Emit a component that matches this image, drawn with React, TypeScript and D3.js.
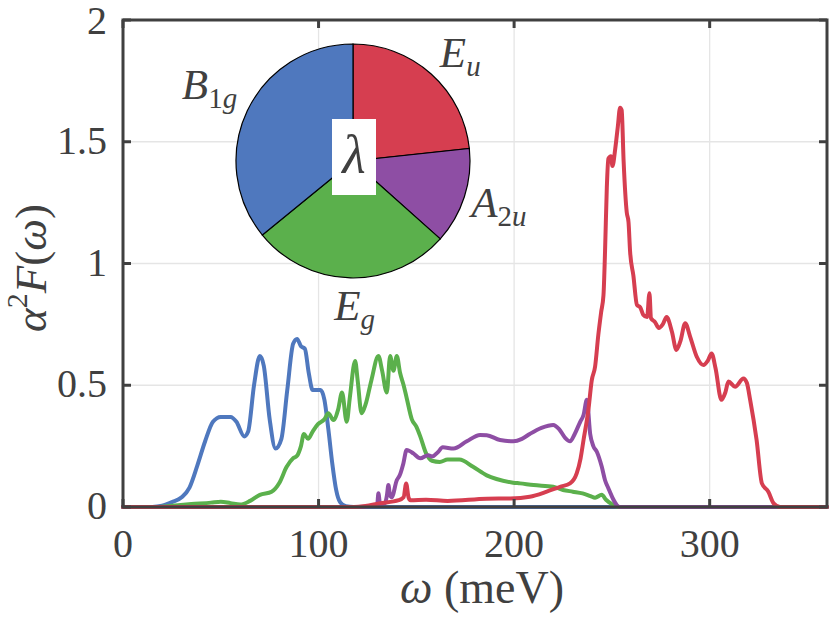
import * as d3 from 'd3'

type Pt = [number, number]

// α²F(ω) per mode (ω in meV)
const b1g: Pt[] = [[0,0],[15,0],[20,0.005],[25,0.02],[30,0.04],[34,0.08],[38,0.17],[42,0.27],[46,0.35],[50,0.37],[55,0.37],[58,0.35],[62,0.29],[64,0.31],[67,0.5],[70,0.62],[72,0.58],[75,0.36],[78,0.24],[81,0.28],[84,0.48],[87,0.67],[89,0.69],[91,0.66],[93,0.65],[95,0.55],[97,0.48],[101,0.48],[103,0.44],[105,0.32],[107,0.18],[109,0.07],[111,0.02],[114,0.003],[118,0],[360,0]]

const eg: Pt[] = [[0,0],[18,0],[25,0.005],[35,0.012],[45,0.018],[50,0.022],[55,0.016],[60,0.01],[65,0.025],[70,0.05],[76,0.063],[80,0.1],[83.7,0.165],[87,0.2],[89,0.21],[91,0.25],[92.5,0.3],[94.6,0.28],[97,0.31],[99.7,0.34],[103,0.36],[105,0.385],[107.6,0.357],[110,0.4],[112,0.47],[114.4,0.35],[116,0.45],[118.7,0.6],[120,0.52],[122,0.385],[124,0.42],[127,0.52],[130.6,0.62],[132.5,0.56],[134.9,0.47],[136.6,0.62],[138.3,0.56],[140,0.62],[141.7,0.55],[143.5,0.5],[145,0.45],[147.7,0.36],[150,0.33],[152,0.29],[155,0.22],[158,0.19],[162,0.185],[166,0.195],[172,0.195],[179,0.165],[186,0.13],[191,0.115],[199.5,0.1],[203,0.097],[210,0.09],[220,0.083],[225,0.07],[230,0.063],[235,0.056],[239,0.045],[241.4,0.038],[244.8,0.05],[247,0.03],[250,0.012],[253,0],[360,0]]

const a2u: Pt[] = [[0,0],[120,0],[128,0.005],[130,0.01],[130.6,0.056],[131.5,0.01],[134,0.016],[135,0.05],[135.7,0.09],[136.5,0.05],[137.4,0.04],[140,0.11],[141.5,0.13],[143.4,0.18],[145,0.234],[146.5,0.23],[148.5,0.22],[152,0.2],[156,0.213],[158,0.207],[161,0.225],[163.5,0.245],[169,0.24],[175.8,0.27],[182.6,0.296],[186,0.295],[192.8,0.275],[199.6,0.27],[204,0.28],[208,0.3],[214,0.325],[220,0.337],[223,0.32],[226,0.285],[228.6,0.27],[231,0.3],[233.8,0.35],[235.5,0.378],[237.2,0.44],[238.9,0.3],[240.5,0.25],[242.3,0.227],[244.8,0.166],[246.5,0.11],[248.2,0.077],[250.5,0.035],[252.5,0.008],[254,0],[360,0]]

const eu: Pt[] = [[0,0],[118,0],[124,0.004],[131,0.015],[141,0.028],[143.5,0.04],[144.8,0.097],[146,0.04],[147,0.028],[155,0.03],[166,0.025],[186,0.034],[198,0.035],[208,0.042],[216.7,0.063],[223.5,0.083],[228.6,0.097],[232,0.138],[234,0.2],[235.5,0.275],[238,0.4],[239.7,0.52],[241.4,0.576],[243.1,0.71],[244.5,0.8],[245.7,0.87],[246.5,1.05],[247.4,1.31],[248.2,1.43],[249.5,1.44],[250.3,1.4],[251.7,1.47],[253,1.56],[254.2,1.64],[255,1.63],[256,1.42],[257.6,1.21],[258.5,1.17],[259.3,1.05],[261,0.95],[262.8,0.83],[264.5,0.82],[266,0.79],[268,0.78],[269.2,0.878],[270,0.775],[272,0.76],[274,0.735],[276,0.75],[278,0.78],[280.7,0.72],[283,0.645],[285,0.68],[287.5,0.755],[290,0.7],[293.4,0.617],[296.8,0.583],[299,0.6],[301,0.63],[303,0.57],[306,0.44],[308,0.47],[309.6,0.515],[313,0.494],[317.3,0.528],[319,0.51],[320.7,0.44],[324,0.275],[326.7,0.097],[330,0.063],[332.7,0.015],[336,0],[360,0]]

// share of λ per mode (clockwise from 12 o'clock)
const pieModes = ['Eu', 'A2u', 'Eg', 'B1g']
const pieShares = [0.233, 0.133, 0.275, 0.359]

const xTicks = [0, 100, 200, 300]
const yTicks = [0, 0.5, 1, 1.5, 2]

const colors: Record<string, string> = {
  B1g: '#4F78BE',
  Eg: '#5BB04C',
  A2u: '#8E4EA4',
  Eu: '#D63E50',
}

// small hand nudges so pie labels sit like the original
const labelNudge: Record<string, [number, number]> = {
  Eu: [7, 6],
  A2u: [3, -2],
  Eg: [5, -3],
  B1g: [-8, -10],
}

const W = 830
const H = 623
const ink = '#404040'
const serif = '"Liberation Serif", "DejaVu Serif", serif'

const x = d3.scaleLinear().domain([0, 360]).range([123, 827])
const y = d3.scaleLinear().domain([0, 2]).range([507, 20])

const line = d3.line<Pt>()
  .x(d => x(d[0]))
  .y(d => y(d[1]))
  .curve(d3.curveMonotoneX)

const series: { key: string; data: Pt[] }[] = [
  { key: 'B1g', data: b1g },
  { key: 'Eg', data: eg },
  { key: 'A2u', data: a2u },
  { key: 'Eu', data: eu },
]

function ModeLabel({ mode }: { mode: string }) {
  const main = mode[0]
  const sub = mode.slice(1)
  return (
    <>
      <tspan fontStyle="italic">{main}</tspan>
      {sub.split('').map((c, i) => (
        <tspan
          key={i}
          fontSize={29}
          dy={i === 0 ? 9 : 0}
          fontStyle={/[0-9]/.test(c) ? 'normal' : 'italic'}
        >{c}</tspan>
      ))}
    </>
  )
}

export default function App() {
  const pieCx = 353
  const pieCy = 161
  const pieR = 117

  const arcs = d3.pie<number>().sort(null)(pieShares)
  const arc = d3.arc<d3.PieArcDatum<number>>().innerRadius(0).outerRadius(pieR)
  const labelArc = d3.arc<d3.PieArcDatum<number>>().innerRadius(150).outerRadius(150)

  return (
    <svg
      width={W}
      height={H}
      style={{ position: 'absolute', left: 0, top: 0, background: '#fff' }}
      fontFamily={serif}
    >
      {/* grid */}
      <g stroke="#e5e5e5" strokeWidth={1.3}>
        {xTicks.slice(1).map(t => (
          <line key={t} x1={x(t)} x2={x(t)} y1={y(0)} y2={y(2)} />
        ))}
        {yTicks.slice(1, -1).map(t => (
          <line key={t} x1={x(0)} x2={x(360)} y1={y(t)} y2={y(t)} />
        ))}
      </g>

      {/* curves */}
      <g fill="none" strokeWidth={4} strokeLinejoin="round" strokeLinecap="round">
        {series.map(s => (
          <path key={s.key} d={line(s.data) || ''} stroke={colors[s.key]} />
        ))}
      </g>

      {/* axes box + inward ticks */}
      <g stroke={ink} strokeWidth={3}>
        <rect x={x(0)} y={y(2)} width={x(360) - x(0)} height={y(0) - y(2)} fill="none" />
        {xTicks.map(t => (
          <g key={t}>
            <line x1={x(t)} x2={x(t)} y1={y(0)} y2={y(0) - 8} />
            <line x1={x(t)} x2={x(t)} y1={y(2)} y2={y(2) + 8} />
          </g>
        ))}
        {yTicks.map(t => (
          <g key={t}>
            <line x1={x(0)} x2={x(0) + 8} y1={y(t)} y2={y(t)} />
            <line x1={x(360)} x2={x(360) - 8} y1={y(t)} y2={y(t)} />
          </g>
        ))}
      </g>

      {/* tick labels */}
      <g fill={ink} fontSize={40}>
        {xTicks.map(t => (
          <text key={t} x={x(t)} y={557} textAnchor="middle">{t}</text>
        ))}
        {yTicks.map(t => (
          <text key={t} x={107} y={t === 2 ? y(t) + 14 : y(t) + 12} textAnchor="end">{t}</text>
        ))}
      </g>

      {/* axis labels */}
      <text x={482} y={603} fill={ink} fontSize={46} textAnchor="middle">
        <tspan fontStyle="italic">ω</tspan> (meV)
      </text>
      <text
        transform="translate(46,268) rotate(-90)"
        fill={ink}
        fontSize={45}
        textAnchor="middle"
      >
        <tspan fontStyle="italic">α</tspan>
        <tspan fontSize={30} dy={-19}>2</tspan>
        <tspan fontStyle="italic" dy={19}>F</tspan>(<tspan fontStyle="italic">ω</tspan>)
      </text>

      {/* pie of λ contributions */}
      <g transform={`translate(${pieCx},${pieCy})`}>
        {arcs.map((a, i) => (
          <path
            key={pieModes[i]}
            d={arc(a) || ''}
            fill={colors[pieModes[i]]}
            stroke="#000"
            strokeWidth={1.2}
          />
        ))}
        {arcs.map((a, i) => {
          const [lx, ly] = labelArc.centroid(a)
          const [nx, ny] = labelNudge[pieModes[i]]
          return (
            <text
              key={pieModes[i]}
              x={lx + nx}
              y={ly + 12 + ny}
              fill={ink}
              fontSize={43}
              textAnchor="middle"
            >
              <ModeLabel mode={pieModes[i]} />
            </text>
          )
        })}
        <rect x={-21} y={-42} width={44} height={76} fill="#fff" />
        <text x={1} y={12} fill={ink} fontSize={54} fontStyle="italic" textAnchor="middle">λ</text>
      </g>
    </svg>
  )
}
